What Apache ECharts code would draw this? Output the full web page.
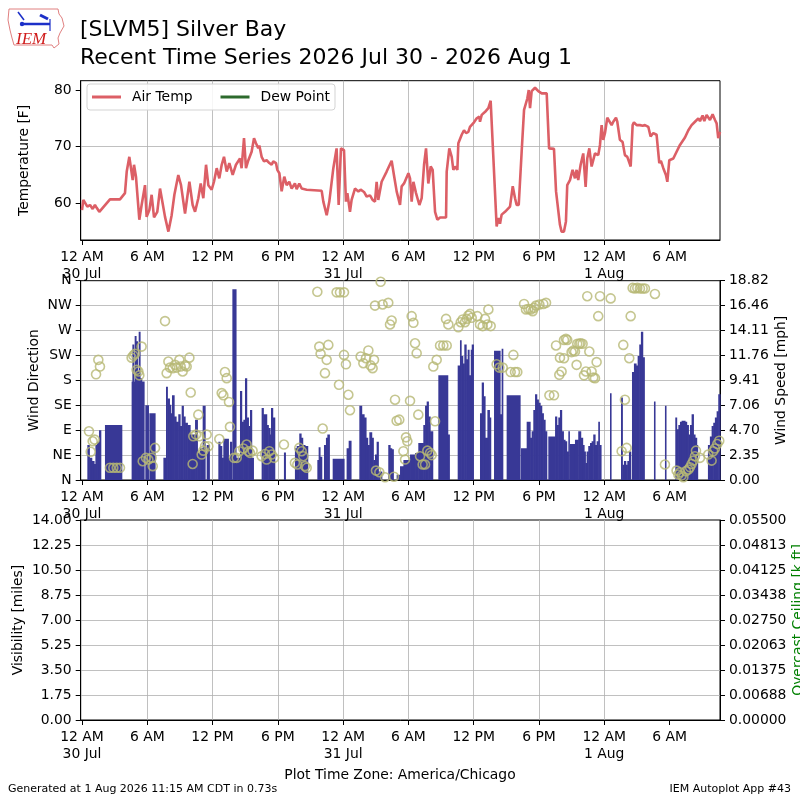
<!DOCTYPE html>
<html><head><meta charset="utf-8">
<script src="https://cdn.jsdelivr.net/npm/echarts@6/dist/echarts.min.js"></script>
<style>html,body{margin:0;padding:0;background:#fff}#c{width:800px;height:800px}</style>
</head><body><div id="c"></div>
<script>
// hours since 30 Jul 2026 00:00 America/Chicago
const tempHr = [0,0.12,0.28,0.49,0.74,0.98,1.19,1.35,1.59,2.57,3.49,3.95,4.11,4.35,4.50,4.66,4.78,4.96,5.27,5.48,5.79,5.94,6.19,6.40,6.62,6.92,7.17,7.41,7.63,7.94,8.24,8.49,8.85,9.10,9.47,9.87,10.17,10.39,10.69,10.91,11.15,11.40,11.61,11.92,12.13,12.38,12.62,12.84,13.05,13.30,13.54,13.85,14.15,14.52,14.67,14.89,15.07,15.29,15.59,15.81,15.99,16.20,16.30,16.51,16.73,16.97,17.22,17.43,17.58,17.83,17.95,18.14,18.35,18.59,18.81,19.05,19.27,19.57,19.73,19.97,20.19,20.65,22.03,22.18,22.49,22.73,23.10,23.40,23.59,23.80,24.08,24.26,24.39,24.63,24.78,25.09,25.40,25.61,25.92,26.16,26.47,26.71,26.93,27.08,27.23,27.54,28.00,28.46,28.67,28.92,29.23,29.38,29.60,30.00,30.15,30.30,30.46,30.70,31.01,31.22,31.44,31.62,31.83,32.05,32.23,32.45,32.66,32.91,33.46,33.52,33.76,33.98,34.13,34.29,34.50,34.59,34.90,35.11,35.30,35.51,35.66,36.03,36.28,36.52,36.58,36.74,36.89,37.13,37.35,37.56,38.11,38.27,38.42,38.57,38.88,39.34,39.59,39.80,39.95,40.14,40.41,40.63,40.81,40.93,41.06,41.18,41.33,41.64,41.94,42.25,42.71,42.93,43.38,43.57,43.93,44.08,44.30,44.48,44.60,44.85,45.09,45.31,45.46,45.61,45.83,46.07,46.29,46.44,46.63,46.84,47.15,47.45,47.61,47.76,47.91,48.07,48.28,48.46,48.68,48.83,49.08,49.20,49.44,49.69,49.90,50.12,50.43,50.61,50.73,50.98,51.28,51.53,51.74,52.05,52.26,52.51,52.81,53.06,53.21,53.43,53.67,53.80,53.98,54.35,54.65,54.96,55.42,55.73,56.03,56.34,56.65,56.80,57.04,57.20,57.41,57.56,57.72,57.96,58.18,58.33,58.48,58.64];
const tempF = [58.8,60.6,60.7,59.4,59.7,59.0,59.7,59.2,58.5,60.7,60.7,61.8,65.6,68.2,68.4,64.1,66.8,64.7,57.1,59.7,63.2,57.6,58.8,61.5,57.5,58.5,62.6,60.0,57.6,55.0,57.9,61.5,65.0,63.2,58.2,63.8,59.7,58.5,60.9,63.5,60.9,66.8,63.2,62.4,63.8,66.2,64.4,66.8,68.2,65.6,67.1,65.0,66.8,67.9,66.2,71.5,66.2,67.6,69.1,71.5,70.6,69.7,70.2,68.2,67.4,67.6,67.1,66.8,67.4,67.1,65.9,65.3,62.1,64.7,63.2,63.8,62.6,63.5,62.5,63.5,62.6,62.4,62.2,60.3,57.9,60.3,66.2,69.7,59.7,69.7,69.4,60.3,61.8,58.5,60.6,62.6,62.1,62.4,62.0,61.2,61.4,60.6,60.3,63.8,60.6,63.8,65.6,67.5,65.0,62.1,59.7,63.0,63.5,65.3,64.4,60.3,63.8,61.8,59.7,60.9,66.8,69.7,63.5,66.5,65.9,58.5,57.1,57.5,57.5,65.6,69.7,68.2,65.9,66.5,65.9,70.6,72.1,72.9,72.4,72.6,73.5,74.3,75.0,75.3,74.4,75.6,75.3,76.3,76.8,78.1,55.9,57.4,56.4,58.0,58.5,59.4,63.0,60.9,59.7,59.7,69.1,76.5,76.8,78.5,80.0,76.8,79.8,80.4,79.8,79.4,79.4,69.7,69.6,62.1,56.2,55.0,55.0,56.8,63.2,64.1,65.9,64.4,65.9,64.1,66.8,68.8,62.9,67.9,69.7,66.5,68.8,68.5,70.3,73.8,71.2,72.4,75.1,75.1,73.8,74.4,75.1,74.4,71.2,70.8,68.5,68.2,66.5,73.8,74.3,73.8,73.8,73.7,73.8,73.5,71.8,72.4,72.1,67.1,67.5,66.2,65.0,63.8,67.6,67.9,69.1,70.3,71.6,72.9,73.8,74.4,75.0,74.5,75.5,74.5,75.6,75.3,74.7,75.7,74.7,74.1,71.5,72.6];

// wind speed observations (each bar lasts until the next observation; 0 = no wind / gap)
const windHr = [0.49,0.67,0.89,1.10,1.23,1.38,1.56,1.72,2.11,3.65,4.56,4.63,4.75,4.84,4.96,5.09,5.21,5.33,5.48,5.70,5.82,6.10,6.19,6.71,7.48,7.72,7.84,8.03,8.15,8.27,8.46,8.64,8.85,9.01,9.16,9.31,9.47,9.68,9.93,10.39,10.60,10.85,11.09,11.31,11.46,11.70,12.53,12.68,12.84,12.99,13.45,13.60,13.76,13.82,14.15,14.52,14.67,14.83,14.98,15.13,15.29,15.44,15.59,15.75,16.51,16.66,16.97,17.12,17.28,17.37,17.52,17.71,18.56,18.69,19.57,19.73,19.97,20.13,20.28,20.49,20.74,21.63,21.75,21.87,22.03,22.24,22.42,22.55,22.73,23.04,24.08,24.32,24.51,24.72,25.49,25.70,25.92,26.10,26.25,26.41,26.62,26.77,26.93,27.08,27.23,27.55,28.15,28.31,28.46,28.61,28.92,29.23,29.54,30.15,30.61,30.91,31.37,31.53,31.68,31.83,31.99,32.23,32.75,33.61,33.76,34.53,34.74,34.84,34.99,35.14,35.30,35.45,35.57,35.73,35.82,35.97,36.58,36.74,36.89,37.04,37.26,37.44,37.56,37.87,38.42,38.57,38.67,39.03,40.26,40.35,40.87,41.18,41.33,41.48,41.64,41.79,41.94,42.10,42.25,42.40,42.56,42.71,42.86,43.48,43.63,43.78,43.93,44.08,44.24,44.39,44.54,44.70,44.79,44.85,45.31,45.61,45.83,46.01,46.14,46.26,46.38,46.53,46.69,46.84,46.99,47.15,47.30,47.45,47.55,47.70,48.53,48.62,49.54,49.66,49.81,49.97,50.12,50.27,50.43,50.55,50.73,50.92,51.07,51.22,51.37,51.53,51.68,52.57,52.66,53.58,53.67,54.53,54.65,54.81,54.96,55.11,55.42,55.57,55.73,55.88,56.03,56.19,56.34,56.49,56.58,57.53,57.71,57.87,58.02,58.17,58.33,58.48];
const windMph = [3.3,2.1,1.8,1.5,3.3,3.6,4.7,0,5.2,0,9.3,12.8,9.3,13.6,13.1,10.3,14.0,9.6,9.3,0,7.05,0,6.3,0,2.1,8.8,7.7,7.1,6.3,8.0,6.0,5.5,6.2,5.1,7.0,6.0,5.4,5.2,4.3,5.7,2.6,3.0,7.0,0,3.3,0,3.6,3.2,2.1,3.9,2.1,3.6,0,18.0,2.1,8.4,5.5,5.7,9.6,5.9,5.1,6.6,2.1,0,6.8,6.2,5.2,4.9,4.3,6.8,5.9,0,2.6,0,3.0,3.2,4.4,4.0,3.3,3.2,0,1.9,3.1,2.2,0,3.3,4.0,4.3,0,2.0,0,3.0,3.7,0,7.0,6.2,5.9,4.0,3.3,4.5,4.0,1.9,2.4,3.6,0.8,0,3.3,3.0,2.9,0,0.5,1.3,1.9,2.4,2.55,3.5,5.2,7.0,7.4,6.0,4.6,0,9.9,4.3,0,10.8,13.2,11.7,11.0,12.8,11.4,12.3,9.9,12.3,12.8,0,6.3,9.2,7.9,4.0,6.6,5.9,0,12.2,6.2,12.4,0,8.0,0,3.0,5.5,4.0,4.6,6.6,8.1,7.6,7.3,7.0,6.3,5.7,4.6,0,4.1,6.0,5.2,5.9,6.6,4.6,3.8,3.65,2.7,4.6,0,3.4,3.8,4.6,4.0,3.3,2.7,1.6,2.7,3.2,3.5,3.65,4.3,3.3,3.65,5.5,3.3,0,8.2,0,7.8,1.45,1.8,1.45,1.8,2.7,0,10.2,11.0,10.8,11.7,12.8,14.0,11.6,0,7.4,0,7.0,0,5.9,4.8,5.2,5.5,5.6,5.5,5.2,4.3,5.2,6.2,4.3,4.0,3.3,0,3.3,4.1,5.1,5.4,5.9,6.5,8.1];

// wind direction observations (degrees)
const windDirHr = [0.64,0.80,0.98,1.16,1.29,1.50,1.65,2.57,2.88,3.19,3.49,4.56,4.72,4.87,5.02,5.18,5.27,5.48,5.58,5.88,6.10,6.40,6.50,6.71,7.63,7.78,7.94,8.09,8.33,8.55,8.70,8.95,9.07,9.25,9.47,9.62,9.87,9.99,10.17,10.23,10.48,10.69,10.78,11.00,11.15,11.31,11.46,11.61,12.62,12.84,12.99,13.14,13.30,13.51,13.60,13.97,14.22,14.46,14.83,15.13,15.29,15.44,15.68,16.51,16.82,16.97,17.22,17.43,17.65,18.56,19.57,19.79,19.97,20.19,20.34,20.49,20.65,21.63,21.81,21.93,22.12,22.33,22.49,22.64,23.40,23.62,23.71,24.08,24.08,24.26,24.48,24.63,25.61,25.86,26.10,26.32,26.53,26.71,26.84,26.93,27.02,27.33,27.45,27.63,27.85,28.15,28.31,28.46,28.67,28.77,28.92,29.16,29.54,29.69,29.78,29.90,30.15,30.30,30.46,30.61,30.76,30.91,31.07,31.31,31.53,31.74,31.99,32.14,32.29,32.45,32.60,32.91,33.21,33.46,33.52,33.67,34.59,34.81,34.99,35.20,35.36,35.51,35.66,35.82,36.34,36.58,36.83,37.04,37.26,37.35,37.56,38.11,38.36,38.67,39.40,39.65,39.80,40.01,40.63,40.81,41.03,41.24,41.42,41.55,41.73,42.04,42.40,42.65,42.96,43.38,43.57,43.87,43.93,44.08,44.30,44.30,44.48,44.60,45.00,45.16,45.31,45.46,45.52,45.71,45.83,46.01,46.14,46.32,46.44,46.63,46.84,46.99,47.15,47.30,47.45,47.61,48.59,49.60,49.75,49.90,50.06,50.30,50.43,50.61,50.82,51.04,51.28,51.53,51.74,52.66,53.58,54.65,54.81,54.96,55.11,55.27,55.51,55.73,55.88,56.03,56.19,56.34,56.43,56.80,57.56,57.87,58.02,58.17,58.39,58.57];
const windDirDeg = [88,51,70,73,191,217,205,22,22,22,22,221,225,228,199,196,189,241,34,40,37,40,25,58,287,193,214,203,202,208,203,217,205,196,207,205,221,158,29,79,82,118,79,46,53,61,82,61,74,157,153,195,184,141,96,40,40,52,57,64,52,49,53,43,47,37,52,46,40,64,31,28,58,52,43,25,22,340,241,228,93,193,217,244,339,172,339,339,226,209,154,126,223,211,220,234,207,202,217,315,17,14,358,317,5,320,281,288,6,145,107,109,52,37,77,70,143,296,284,247,229,118,43,28,28,53,49,45,205,106,217,243,243,291,243,281,276,285,290,285,291,297,300,293,296,281,278,291,281,308,278,209,203,203,195,226,195,195,318,308,309,308,305,311,315,317,318,320,153,153,243,190,221,196,253,220,255,253,231,234,232,208,246,246,247,246,189,196,332,232,196,185,184,213,296,332,328,52,244,145,58,220,296,347,346,347,346,346,346,336,28,17,10,14,8,5,16,19,23,29,35,43,53,40,46,35,52,57,65,71];

// tick labels
const tickHours = [0,6,12,18,24,30,36,42,48,54];
const hourNames = {0:'12 AM', 6:'6 AM', 12:'12 PM', 18:'6 PM'};
const dayNames = ['30 Jul','31 Jul','1 Aug'];
const tempTicks = [60,70,80];
const dirTickLabels = ['N','NE','E','SE','S','SW','W','NW','N'];
const speedTickLabels = ['0.00','2.35','4.70','7.06','9.41','11.76','14.11','16.46','18.82'];
const visTickLabels = ['0.00','1.75','3.50','5.25','7.00','8.75','10.50','12.25','14.00'];
const ceilTickLabels = ['0.00000','0.00688','0.01375','0.02063','0.02750','0.03438','0.04125','0.04813','0.05500'];

const X_MIN = -0.12, X_MAX = 58.64;
const FONT = 'DejaVu Sans';
const FS = 13.9;

function fmtHour(v){
  const r = Math.round(v);
  if (Math.abs(v - r) > 0.01 || r % 6 !== 0 || r < 0) return '';
  const hd = r % 24;
  return hd === 0 ? hourNames[0] + '\n' + dayNames[r / 24] : hourNames[hd];
}
function xAxisFor(gi){
  return {
    type:'value', gridIndex:gi, min:X_MIN, max:X_MAX, minInterval:6, maxInterval:6,
    axisLine:{show:true, onZero:false, lineStyle:{color:'#000', width:1}},
    axisTick:{show:true, length:5, customValues:tickHours, lineStyle:{color:'#000', width:1}},
    axisLabel:{formatter:fmtHour, customValues:tickHours, margin:9, color:'#000', fontSize:FS, fontFamily:FONT, lineHeight:17},
    splitLine:{show:true, showMinLine:false, showMaxLine:false, lineStyle:{color:'#b0b0b0', width:0.8}}
  };
}
function yAxisBase(gi, pos, min, max, interval, labels, name, nameGap, nameColor, split){
  return {
    type:'value', gridIndex:gi, position:pos, min:min, max:max, interval:interval,
    name:name, nameLocation:'middle', nameGap:nameGap, nameRotate:90, nameMoveOverlap:false,
    nameTextStyle:{color:nameColor, fontSize:FS, fontFamily:FONT},
    axisLine:{show:true, onZero:false, lineStyle:{color:'#000', width:1}},
    axisTick:{show:true, length:5, lineStyle:{color:'#000', width:1}},
    axisLabel:{margin:9, color:'#000', fontSize:FS, fontFamily:FONT,
      formatter:v => { const i = Math.round((v - min) / interval); return labels[i] !== undefined ? labels[i] : ''; }},
    splitLine:{show:split, showMinLine:false, showMaxLine:false, lineStyle:{color:'#b0b0b0', width:0.8}}
  };
}

const chart = echarts.init(document.getElementById('c'), null, {renderer:'canvas'});

const windBars = [];
windHr.forEach((h, i) => {
  const end = i + 1 < windHr.length ? windHr[i + 1] : X_MAX;
  if (windMph[i] > 0) windBars.push([h, end, windMph[i]]);
});

const gridBase = {left:80.7, right:80, show:true, borderColor:'#000', borderWidth:1, backgroundColor:'transparent', outerBoundsMode:'none', containLabel:false};

const option = {
  animation:false,
  backgroundColor:'#fff',
  textStyle:{fontFamily:FONT},
  grid:[
    Object.assign({}, gridBase, {top:80.7, height:159.3}),
    Object.assign({}, gridBase, {top:280.7, height:199.3}),
    Object.assign({}, gridBase, {top:520, height:200})
  ],
  xAxis:[xAxisFor(0), xAxisFor(1), xAxisFor(2)],
  yAxis:[
    {
      type:'value', gridIndex:0, min:53.52, max:81.64, minInterval:10, maxInterval:10,
      name:'Temperature [F]', nameLocation:'middle', nameGap:49.5, nameRotate:90, nameMoveOverlap:false,
      nameTextStyle:{color:'#000', fontSize:FS, fontFamily:FONT},
      axisLine:{show:true, onZero:false, lineStyle:{color:'#000', width:1}},
      axisTick:{show:true, length:5, customValues:tempTicks, lineStyle:{color:'#000', width:1}},
      axisLabel:{margin:9, color:'#000', fontSize:FS, fontFamily:FONT, customValues:tempTicks,
        formatter:v => Math.abs(v / 10 - Math.round(v / 10)) < 1e-6 ? String(Math.round(v)) : ''},
      splitLine:{show:true, showMinLine:false, showMaxLine:false, lineStyle:{color:'#b0b0b0', width:0.8}}
    },
    yAxisBase(1, 'left', 0, 360, 45, dirTickLabels, 'Wind Direction', 39, '#000', true),
    yAxisBase(1, 'right', 0, 18.816, 2.352, speedTickLabels, 'Wind Speed [mph]', 54, '#000', false),
    yAxisBase(2, 'left', 0, 14, 1.75, visTickLabels, 'Visibility [miles]', 55, '#000', true),
    yAxisBase(2, 'right', 0, 0.055, 0.006875, ceilTickLabels, 'Overcast Ceiling [k ft]', 71.5, '#008000', false)
  ],
  legend:{
    left:87, top:84, orient:'horizontal', icon:'rect', itemWidth:29, itemHeight:3, itemGap:28,
    padding:[6,5,6,5], backgroundColor:'rgba(255,255,255,0.85)', borderColor:'#d3d3d3', borderWidth:1, borderRadius:3,
    textStyle:{fontSize:FS, fontFamily:FONT, color:'#000', padding:[0,0,0,6]},
    selectedMode:false,
    data:['Air Temp','Dew Point']
  },
  series:[
    {
      name:'Air Temp', type:'line', xAxisIndex:0, yAxisIndex:0, showSymbol:false, symbol:'none',
      color:'#dc5f66', lineStyle:{color:'#dc5f66', width:2.6}, clip:true, silent:true,
      data:tempHr.map((h, i) => [h, tempF[i]]), z:3
    },
    {name:'Dew Point', type:'line', xAxisIndex:0, yAxisIndex:0, showSymbol:false, color:'#2d6a2d', lineStyle:{color:'#2d6a2d', width:2.6}, data:[]},
    {
      name:'Wind Speed', type:'custom', xAxisIndex:1, yAxisIndex:2, clip:true, silent:true, z:2,
      encode:{x:[0,1], y:2},
      data:windBars,
      renderItem:(params, api) => {
        const a = api.coord([api.value(0), api.value(2)]);
        const b = api.coord([api.value(1), 0]);
        return {type:'rect', shape:{x:a[0], y:a[1], width:Math.max(1.2, b[0] - a[0] + 0.6), height:b[1] - a[1]}, style:{fill:'#383896'}};
      }
    },
    {
      name:'Wind Direction', type:'scatter', xAxisIndex:1, yAxisIndex:1, silent:true, z:3,
      symbol:'circle', symbolSize:9,
      itemStyle:{color:'rgba(0,0,0,0)', borderColor:'#b6b874', borderWidth:1.6},
      data:windDirHr.map((h, i) => [h, windDirDeg[i]])
    }
  ],
  graphic:[
    {type:'polygon', silent:true, shape:{points:[[9,9],[58,9],[59,14],[62,18],[64,26],[60,33],[58,38],[59,44],[54,48],[52,45],[14,45],[12,38],[10,30],[8,20]]},
      style:{fill:'none', stroke:'#e08080', lineWidth:1}},
    {type:'line', silent:true, shape:{x1:22, y1:24, x2:50, y2:24}, style:{stroke:'#1c2fc8', lineWidth:2.5}},
    {type:'line', silent:true, shape:{x1:18, y1:12, x2:24, y2:20}, style:{stroke:'#1c2fc8', lineWidth:1.5}},
    {type:'line', silent:true, shape:{x1:40, y1:15, x2:48, y2:19}, style:{stroke:'#1c2fc8', lineWidth:3}},
    {type:'line', silent:true, shape:{x1:50, y1:19, x2:50, y2:31}, style:{stroke:'#1c2fc8', lineWidth:1.2}},
    {type:'circle', silent:true, shape:{cx:22, cy:24, r:2.2}, style:{fill:'#1c2fc8'}},
    {type:'text', silent:true, x:16, y:40, style:{text:'IEM', font:'italic 17px "Liberation Serif"', fill:'#d01c1c', verticalAlign:'middle'}},
    {type:'text', silent:true, x:80, y:30.4, style:{text:'[SLVM5] Silver Bay', font:'22px "DejaVu Sans"', fill:'#000', verticalAlign:'middle'}},
    {type:'text', silent:true, x:80, y:58.6, style:{text:'Recent Time Series 2026 Jul 30 - 2026 Aug 1', font:'22px "DejaVu Sans"', fill:'#000', verticalAlign:'middle'}},
    {type:'text', silent:true, x:400, y:775, style:{text:'Plot Time Zone: America/Chicago', font:'13.9px "DejaVu Sans"', fill:'#000', align:'center', verticalAlign:'middle'}},
    {type:'text', silent:true, x:8, y:789, style:{text:'Generated at 1 Aug 2026 11:15 AM CDT in 0.73s', font:'11px "DejaVu Sans"', fill:'#000', verticalAlign:'middle'}},
    {type:'text', silent:true, x:791, y:789, style:{text:'IEM Autoplot App #43', font:'11px "DejaVu Sans"', fill:'#000', align:'right', verticalAlign:'middle'}}
  ]
};
chart.setOption(option);
</script></body></html>
